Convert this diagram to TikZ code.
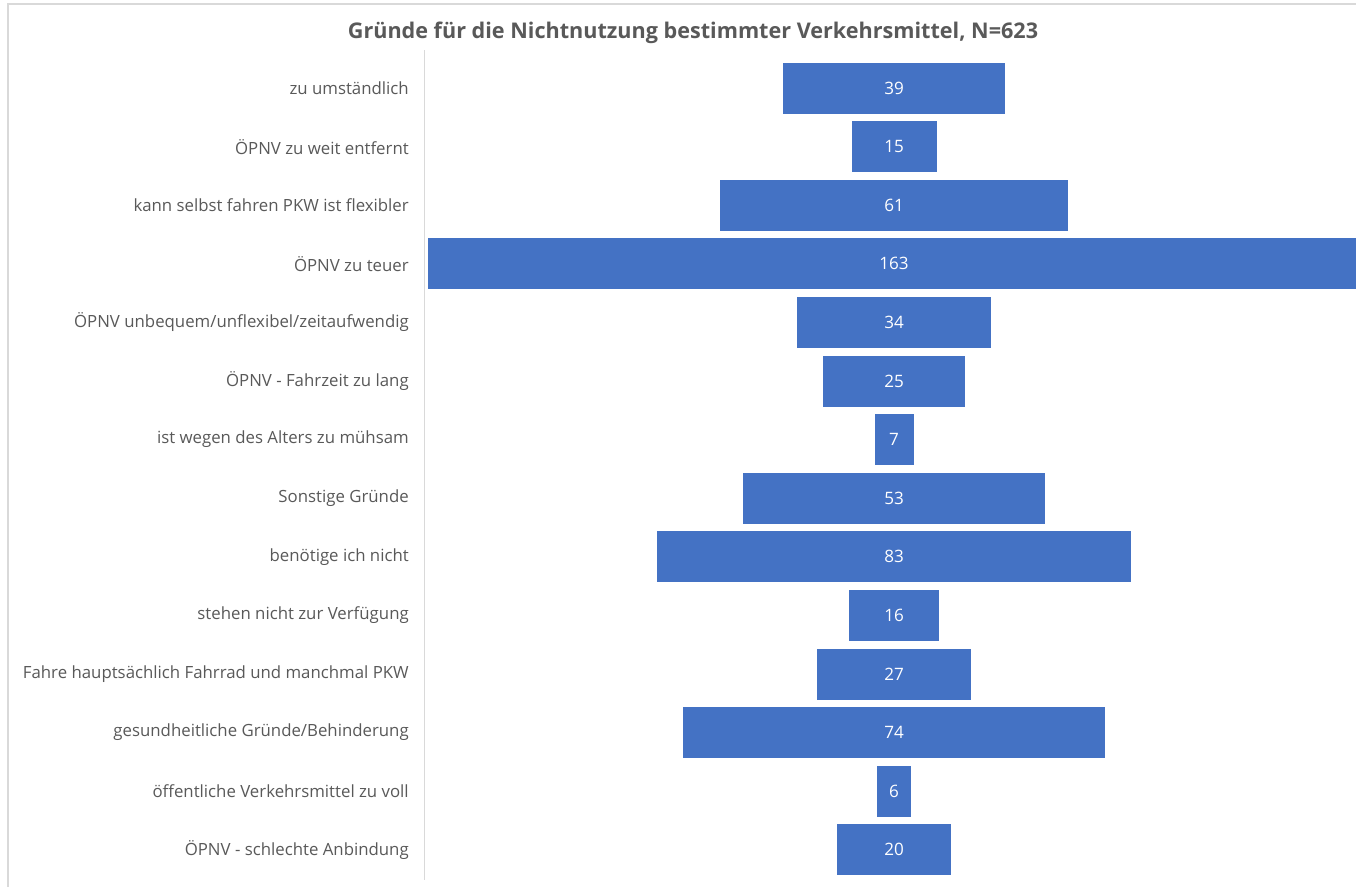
\documentclass[tikz,border=0pt]{standalone}
\usepackage{fontspec}
\setmainfont{Open Sans}
\definecolor{barblue}{HTML}{4472C4}
\definecolor{txtgray}{HTML}{595959}
\definecolor{axisgray}{HTML}{D9D9D9}

\begin{document}
\begin{tikzpicture}[x=0.75pt, y=-0.75pt,
    bar/.style={draw=white, line width=0.6pt, fill=barblue, text=white, minimum height=39pt, inner sep=0pt, font=\fontsize{12.8}{14}\selectfont},
    reason/.style={anchor=east, text=txtgray, inner sep=0pt, font=\fontsize{12.6}{14}\selectfont}]
        % Canvas
        \fill[white] (0,0) rectangle (1356,886);
        \useasboundingbox (0,0) rectangle (1356,886);
        \clip (0,0) rectangle (1356,886);
        \draw[axisgray, line width=0.9pt] (8,4) rectangle (1380,910);

        % Title
        \node[text=txtgray, font=\bfseries\fontsize{16.2}{18}\selectfont] (title) at (693,33) {Gründe für die Nichtnutzung bestimmter Verkehrsmittel, N=623};

        % Bars and reasons
        \foreach \v/\t [count=\i from 0] in {39/zu umständlich, 15/ÖPNV zu weit entfernt, 61/kann selbst fahren PKW ist flexibler, 163/ÖPNV zu teuer, 34/{ÖPNV unbequem/unflexibel/zeitaufwendig}, 25/ÖPNV - Fahrzeit zu lang, 7/ist wegen des Alters zu mühsam, 53/Sonstige Gründe, 83/benötige ich nicht, 16/stehen nicht zur Verfügung, 27/Fahre hauptsächlich Fahrrad und manchmal PKW, 74/{gesundheitliche Gründe/Behinderung}, 6/öffentliche Verkehrsmittel zu voll, 20/ÖPNV - schlechte Anbindung} {
            \node[bar, minimum width=\v*4.29pt] (bar\i) at (894, 88+\i*58.6) {\v};
            \node[reason] (reason\i) at (409, 88+\i*58.6) {\t};
        }

        % Axis
        \coordinate (axistop) at (424,50);
        \coordinate (axisbot) at (424,880);
        \draw[axisgray, line width=0.75pt] (axistop) -- (axisbot);
    \end{tikzpicture}
\end{document}
